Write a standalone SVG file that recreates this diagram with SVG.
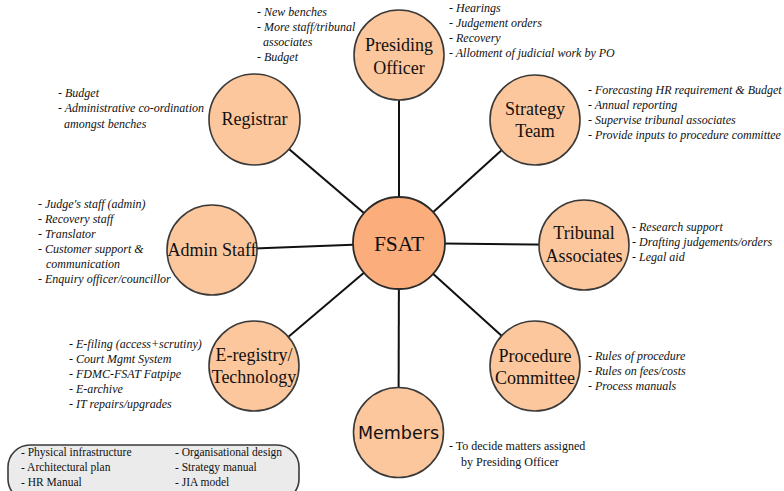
<svg xmlns="http://www.w3.org/2000/svg" width="784" height="491" viewBox="0 0 784 491">
<style>
.n{fill:#fdc79d;stroke:#3a3a3a;stroke-width:1.6}
.c{fill:#fbae7c;stroke:#2a2a2a;stroke-width:1.8}
.lbl{font-family:"Liberation Serif",serif;font-size:18px;fill:#111;text-anchor:middle}
.it{font-family:"Liberation Serif",serif;font-style:italic;font-size:12px;fill:#111}
.rm{font-family:"Liberation Serif",serif;font-size:11.5px;fill:#111}
.e{stroke:#111;stroke-width:2;fill:none}
</style>
<rect width="784" height="491" fill="#fff"/>
<g id="connectors">
<line class="e" x1="399" y1="243" x2="399" y2="55"/>
<line class="e" x1="399" y1="243" x2="254.5" y2="119.5"/>
<line class="e" x1="399" y1="243" x2="535" y2="120"/>
<line class="e" x1="399" y1="243" x2="212" y2="250"/>
<line class="e" x1="399" y1="243" x2="584" y2="245"/>
<line class="e" x1="399" y1="243" x2="254" y2="366"/>
<line class="e" x1="399" y1="243" x2="535" y2="366"/>
<line class="e" x1="399" y1="243" x2="398.5" y2="432.5"/>
</g>
<g id="presiding">
<circle class="n" cx="399" cy="55" r="45"/>
<text class="lbl" x="399" y="51">Presiding</text>
<text class="lbl" x="399" y="74">Officer</text>
</g>
<g id="registrar">
<circle class="n" cx="254.5" cy="119.5" r="45.5"/>
<text class="lbl" x="254.5" y="125">Registrar</text>
</g>
<g id="strategy">
<circle class="n" cx="535" cy="120" r="45"/>
<text class="lbl" x="535" y="115">Strategy</text>
<text class="lbl" x="535" y="137">Team</text>
</g>
<g id="admin">
<circle class="n" cx="212" cy="250" r="45"/>
<text class="lbl" x="212" y="256">Admin Staff</text>
</g>
<g id="tribunal">
<circle class="n" cx="584" cy="245" r="45"/>
<text class="lbl" x="584" y="239">Tribunal</text>
<text class="lbl" x="584" y="262">Associates</text>
</g>
<g id="eregistry">
<circle class="n" cx="254" cy="366" r="45"/>
<text class="lbl" x="254" y="361">E-registry/</text>
<text class="lbl" x="254" y="383">Technology</text>
</g>
<g id="procedure">
<circle class="n" cx="535" cy="366" r="45"/>
<text class="lbl" x="535" y="362">Procedure</text>
<text class="lbl" x="535" y="384">Committee</text>
</g>
<g id="members">
<circle class="n" cx="398.5" cy="432.5" r="45"/>
<text x="398.5" y="439" text-anchor="middle" font-family="DejaVu Sans,sans-serif" font-size="17.5" fill="#111">Members</text>
</g>
<g id="fsat">
<circle class="c" cx="399" cy="243" r="46"/>
<text class="lbl" x="399" y="251" style="font-size:21.5px">FSAT</text>
</g>
<g id="notes">
<text class="it" x="257" y="16">- New benches</text>
<text class="it" x="257" y="31">- More staff/tribunal</text>
<text class="it" x="263" y="46">associates</text>
<text class="it" x="257" y="61">- Budget</text>
<text class="it" x="449" y="12">- Hearings</text>
<text class="it" x="449" y="27">- Judgement orders</text>
<text class="it" x="449" y="42">- Recovery</text>
<text class="it" x="449" y="57">- Allotment of judicial work by PO</text>
<text class="it" x="58" y="97">- Budget</text>
<text class="it" x="58" y="112">- Administrative co-ordination</text>
<text class="it" x="64" y="128">amongst benches</text>
<text class="it" x="588" y="94">- Forecasting HR requirement &amp; Budget</text>
<text class="it" x="588" y="109">- Annual reporting</text>
<text class="it" x="588" y="124">- Supervise tribunal associates</text>
<text class="it" x="588" y="139">- Provide inputs to procedure committee</text>
<text class="it" x="38" y="208">- Judge's staff (admin)</text>
<text class="it" x="38" y="223">- Recovery staff</text>
<text class="it" x="38" y="238">- Translator</text>
<text class="it" x="38" y="253">- Customer support &amp;</text>
<text class="it" x="46" y="268">communication</text>
<text class="it" x="38" y="283">- Enquiry officer/councillor</text>
<text class="it" x="632" y="231">- Research support</text>
<text class="it" x="632" y="246">- Drafting judgements/orders</text>
<text class="it" x="632" y="261">- Legal aid</text>
<text class="it" x="69" y="348">- E-filing (access+scrutiny)</text>
<text class="it" x="69" y="363">- Court Mgmt System</text>
<text class="it" x="69" y="378">- FDMC-FSAT Fatpipe</text>
<text class="it" x="69" y="393">- E-archive</text>
<text class="it" x="69" y="408">- IT repairs/upgrades</text>
<text class="it" x="588" y="360">- Rules of procedure</text>
<text class="it" x="588" y="375">- Rules on fees/costs</text>
<text class="it" x="588" y="390">- Process manuals</text>
<text class="rm" x="449" y="450" style="font-size:12px">- To decide matters assigned</text>
<text class="rm" x="461" y="466" style="font-size:12px">by Presiding Officer</text>
</g>
<g id="legend">
<rect x="8" y="445" width="291" height="56" rx="22" ry="22" fill="#ebebeb" stroke="#3a3a3a" stroke-width="1.6"/>
<text class="rm" x="21" y="456">- Physical infrastructure</text>
<text class="rm" x="21" y="471">- Architectural plan</text>
<text class="rm" x="21" y="486">- HR Manual</text>
<text class="rm" x="175" y="456">- Organisational design</text>
<text class="rm" x="175" y="471">- Strategy manual</text>
<text class="rm" x="175" y="486">- JIA model</text>
</g>
</svg>
